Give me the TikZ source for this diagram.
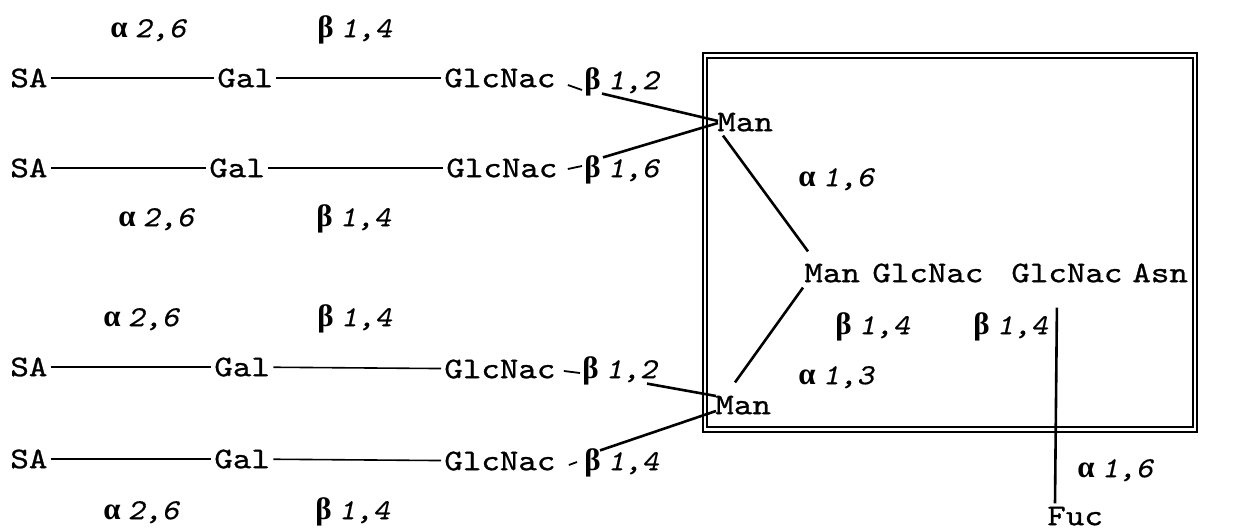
\documentclass[tikz,border=0pt]{standalone}
\usepackage{fontspec}
\setmonofont{lmmono10-regular.otf}[FakeStretch=1.175, FakeBold=0.9]
\newfontfamily\numfont{lmmono10-regular.otf}[FakeStretch=1.12, FakeSlant=0.22, FakeBold=0.5]
\newfontfamily\gkfont{Liberation Serif}
\usetikzlibrary{calc}
\newcommand\lkl[2]{{\gkfont\bfseries\fontsize{15.5}{16}\selectfont #1}\hspace{3.5pt}{\numfont\fontsize{14.5}{16}\selectfont #2}}
\begin{document}
\begin{tikzpicture}[x=0.5pt,y=-0.5pt,
  sug/.style={font=\fontsize{15}{16}\selectfont\ttfamily, inner sep=0pt, text height=9.2pt, text depth=0pt, anchor=west},
  lk/.style={sug},
  bond/.style={line width=0.8pt, shorten <=1.5pt, shorten >=1.5pt},
  dashb/.style={line width=0.9pt},
  mbond/.style={line width=1.3pt},
  frame/.style={line width=0.6pt}]
\useasboundingbox (0,0) rectangle (1257,529);

% box
\draw[frame] (703,53) rectangle (1197,432);
\draw[frame] (707,58) rectangle (1193,427);

% row 1
\node[lk] (t1a) at (110,28) {\lkl{α}{2,6}};
\node[lk] (t1b) at (317,28) {\lkl{β}{1,4}};
\node[sug] (sa1) at (10,78) {SA};
\node[sug] (gal1) at (217,78) {Gal};
\node[sug] (glc1) at (444,78) {GlcNac};
\node[lk] (l1) at (584,80) {\lkl{β}{1,2}};
% row 2
\node[sug] (sa2) at (10,168) {SA};
\node[sug] (gal2) at (209,168) {Gal};
\node[sug] (glc2) at (446,168) {GlcNac};
\node[lk] (l2) at (584,168) {\lkl{β}{1,6}};
\node[lk] (b2a) at (118,217) {\lkl{α}{2,6}};
\node[lk] (b2b) at (316,217) {\lkl{β}{1,4}};
% row 3
\node[lk] (t3a) at (103,317) {\lkl{α}{2,6}};
\node[lk] (t3b) at (317,317) {\lkl{β}{1,4}};
\node[sug] (sa3) at (10,367) {SA};
\node[sug] (gal3) at (214,367) {Gal};
\node[sug] (glc3) at (444,369) {GlcNac};
\node[lk] (l3) at (582,369) {\lkl{β}{1,2}};
% row 4
\node[sug] (sa4) at (10,459) {SA};
\node[sug] (gal4) at (214,459) {Gal};
\node[sug] (glc4) at (444,461) {GlcNac};
\node[lk] (l4) at (584,461) {\lkl{β}{1,4}};
\node[lk] (b4a) at (103,510) {\lkl{α}{2,6}};
\node[lk] (b4b) at (315,510) {\lkl{β}{1,4}};

% core
\node[sug] (manA) at (717,122) {Man};
\node[sug] (manB) at (715,405) {Man};
\node[sug] (manC) at (804,273) {Man};
\node[sug] (glcC) at (872,273) {GlcNac};
\node[sug] (glcD) at (1011,273) {GlcNac};
\node[sug] (asn) at (1132,273) {Asn};
\node[sug] (fuc) at (1047,516) {Fuc};
\node[lk] (c1) at (798,177) {\lkl{α}{1,6}};
\node[lk] (c2) at (835,325) {\lkl{β}{1,4}};
\node[lk] (c3) at (973,325) {\lkl{β}{1,4}};
\node[lk] (c4) at (798,375) {\lkl{α}{1,3}};
\node[lk] (c5) at (1077,468) {\lkl{α}{1,6}};

% chain bonds
\foreach \i in {1,2,3,4}{
  \draw[bond] (sa\i) -- (gal\i);
  \draw[bond] (gal\i) -- (glc\i);
}
\draw[dashb] ($(glc1.east)+(12,7)$) -- ($(l1.west)+(-2,10)$);
\draw[dashb] ($(glc2.east)+(10,1)$) -- ($(l2.west)+(-2,-2)$);
\draw[dashb] ($(glc3.east)+(8,2)$) -- ($(l3.west)+(-2,4)$);
\draw[dashb] ($(glc4.east)+(13,4)$) -- ($(l4.west)+(-7,1)$);

% to core mannoses
\draw[mbond] ($(l1.south west)+(18,4)$) -- ($(manA.west)+(1,-1)$);
\draw[mbond] ($(l2.north west)+(19,-1)$) -- ($(manA.west)+(1,1)$);
\draw[mbond] ($(l3.south west)+(65,5)$) -- ($(manB.west)+(1,-9)$);
\draw[mbond] ($(l4.north west)+(16,-1)$) -- ($(manB.west)+(1,6)$);

% core bonds
\draw[mbond] ($(manA.south west)+(6,4)$) -- ($(manC.north west)+(4,-12)$);
\draw[mbond] ($(manB.north west)+(20,-13)$) -- ($(manC.south west)+(-1,5)$);
\draw[mbond] ($(glcD.south)+(-10,25)$) -- ($(fuc.north west)+(8,-3)$);
\end{tikzpicture}
\end{document}
